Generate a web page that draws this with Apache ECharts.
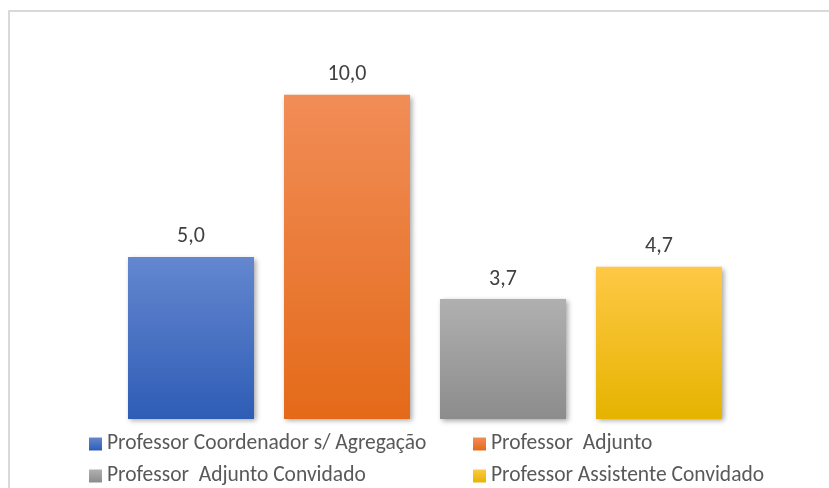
<!DOCTYPE html>
<html>
<head>
<meta charset="utf-8">
<script src="https://cdn.jsdelivr.net/npm/echarts@6/dist/echarts.min.js"></script>
<style>
  html, body { margin: 0; padding: 0; background: #fff; }
  #chart { width: 829px; height: 488px; }
</style>
</head>
<body>
<div id="chart"></div>
<script>
// Categories (one per teaching rank) and their values
const categories = [
  'Professor Coordenador s/ Agregação',
  'Professor  Adjunto',
  'Professor  Adjunto Convidado',
  'Professor Assistente Convidado'
];
const values = [5.0, 10.0, 3.7, 4.7];

// Gradient colours, top → bottom
const topColors = ['#6487CF', '#F18D57', '#B0B0B0', '#FFC846'];
const bottomColors = ['#2E5DB6', '#E46A19', '#8C8C8C', '#E5B400'];

const fontFamily = 'Carlito, Calibri, "Open Sans", "Noto Sans", sans-serif';

function grad(i) {
  return new echarts.graphic.LinearGradient(0, 0, 0, 1, [
    { offset: 0, color: topColors[i] },
    { offset: 1, color: bottomColors[i] }
  ]);
}

// One series per category so each bar gets its own legend entry;
// a shared stack keeps every bar centred on its category.
const series = categories.map((name, i) => ({
  name: name,
  type: 'bar',
  stack: 'all',
  barWidth: 126,
  data: values.map((v, j) => (j === i ? v : null)),
  itemStyle: {
    color: grad(i),
    shadowColor: 'rgba(0,0,0,0.35)',
    shadowBlur: 5,
    shadowOffsetX: 2,
    shadowOffsetY: 2
  },
  label: {
    show: true,
    position: 'top',
    distance: 9,
    color: '#404040',
    fontSize: 22,
    fontFamily: fontFamily,
    formatter: p => p.value.toFixed(1).replace('.', ',')
  }
}));

const legendText = { color: '#595959', fontSize: 21.5, fontFamily: fontFamily, lineHeight: 22 };

function legendAt(left, names) {
  return {
    orient: 'vertical',
    left: left,
    top: 433,
    height: 55,
    padding: 0,
    itemWidth: 13,
    itemHeight: 13,
    itemGap: 10,
    icon: 'rect',
    textStyle: legendText,
    data: names
  };
}

const chart = echarts.init(document.getElementById('chart'));
chart.setOption({
  animation: false,
  graphic: [{
    type: 'rect',
    shape: { x: 9, y: 11, width: 900, height: 600 },
    style: { fill: 'none', stroke: '#D9D9D9', lineWidth: 2 },
    silent: true
  }],
  grid: { left: 113, right: 92, top: 30, bottom: 69 },
  xAxis: {
    type: 'category',
    data: categories,
    axisLine: { show: false },
    axisTick: { show: false },
    axisLabel: { show: false }
  },
  yAxis: {
    type: 'value',
    min: 0,
    max: 12,
    show: false,
    splitLine: { show: false }
  },
  legend: [
    legendAt(89, [categories[0], categories[2]]),
    legendAt(473, [categories[1], categories[3]])
  ],
  series: series
});
</script>
</body>
</html>
